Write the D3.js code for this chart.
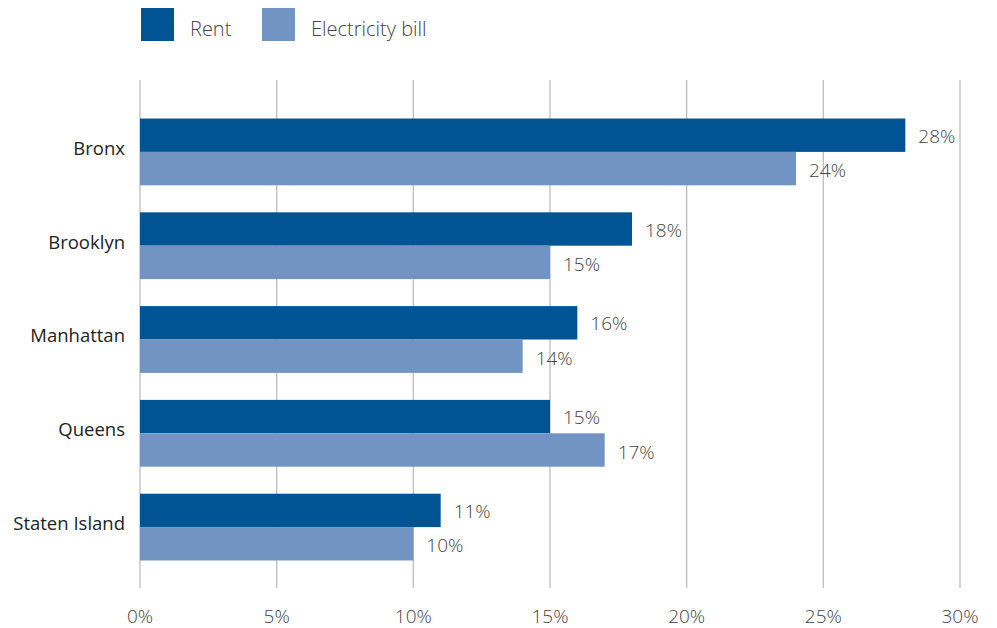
<!DOCTYPE html>
<meta charset="utf-8">
<script src="https://d3js.org/d3.v7.min.js"></script>
<style>
  body { margin: 0; background: #fff; }
  text { font-family: "Open Sans", sans-serif; }
</style>
<div id="my_dataviz"></div>
<script>

  // data
  var boroughs = ["Bronx", "Brooklyn", "Manhattan", "Queens", "Staten Island"];
  var seriesNames = ["Rent", "Electricity bill"];
  var rent = [28, 18, 16, 15, 11];
  var electricity = [24, 15, 14, 17, 10];
  var xTicks = [0, 5, 10, 15, 20, 25, 30];
  var colors = ["#005493", "#7294c2"];

  var width = 997, height = 628;

  var svg = d3.select("#my_dataviz")
    .append("svg")
      .attr("width", width)
      .attr("height", height);

  var x = d3.scaleLinear()
    .domain([0, 30])
    .range([140, 960]);

  var y = d3.scaleBand()
    .domain(boroughs)
    .range([105, 574])
    .paddingInner(0.288)
    .paddingOuter(0.144);

  var sub = d3.scaleBand()
    .domain(seriesNames)
    .range([0, y.bandwidth()]);

  // gridlines
  svg.append("g")
    .selectAll("line")
    .data(xTicks)
    .enter()
    .append("line")
      .attr("x1", function(d) { return x(d) })
      .attr("x2", function(d) { return x(d) })
      .attr("y1", 80)
      .attr("y2", 588)
      .style("stroke", "#bdbdbd")
      .style("stroke-width", 1.3);

  // x tick labels
  svg.append("g")
    .selectAll("text")
    .data(xTicks)
    .enter()
    .append("text")
      .attr("x", function(d) { return x(d) })
      .attr("y", 623)
      .attr("text-anchor", "middle")
      .style("font-size", "19px")
      .style("font-weight", 300)
      .style("fill", "#444")
      .text(function(d) { return d + "%" });

  var rows = boroughs.map(function(b, i) {
    return {name: b, values: [rent[i], electricity[i]]};
  });

  var groups = svg.selectAll(".grp")
    .data(rows)
    .enter()
    .append("g")
      .attr("class", "grp")
      .attr("transform", function(d) { return "translate(0," + y(d.name) + ")" });

  groups.selectAll("rect")
    .data(function(d) { return d.values.map(function(v, j) { return {s: seriesNames[j], v: v, j: j} }) })
    .enter()
    .append("rect")
      .attr("x", x(0))
      .attr("y", function(d) { return sub(d.s) })
      .attr("width", function(d) { return x(d.v) - x(0) })
      .attr("height", sub.bandwidth())
      .style("fill", function(d) { return colors[d.j] });

  groups.selectAll(".val")
    .data(function(d) { return d.values.map(function(v, j) { return {s: seriesNames[j], v: v, j: j} }) })
    .enter()
    .append("text")
      .attr("class", "val")
      .attr("x", function(d) { return x(d.v) + 13 })
      .attr("y", function(d) { return sub(d.s) + sub.bandwidth() / 2 + 1 + d.j })
      .attr("dy", "0.35em")
      .style("font-size", "19px")
      .style("font-weight", 300)
      .style("fill", "#444")
      .text(function(d) { return d.v + "%" });

  // category labels
  groups.append("text")
    .attr("x", 125)
    .attr("y", y.bandwidth() / 2 - 3.5)
    .attr("dy", "0.35em")
    .attr("text-anchor", "end")
    .style("font-size", "18.5px")
    .style("fill", "#222")
    .text(function(d) { return d.name });

  // legend
  var legendX = [141, 262];
  var legend = svg.selectAll(".legend")
    .data(seriesNames)
    .enter()
    .append("g")
      .attr("class", "legend")
      .attr("transform", function(d, i) { return "translate(" + legendX[i] + ",8)" });

  legend.append("rect")
    .attr("width", 33)
    .attr("height", 33)
    .style("fill", function(d, i) { return colors[i] });

  legend.append("text")
    .attr("x", 49)
    .attr("y", 28)
    .style("font-size", "20px")
    .style("font-weight", 300)
    .style("fill", "#444")
    .text(function(d) { return d });

</script>
